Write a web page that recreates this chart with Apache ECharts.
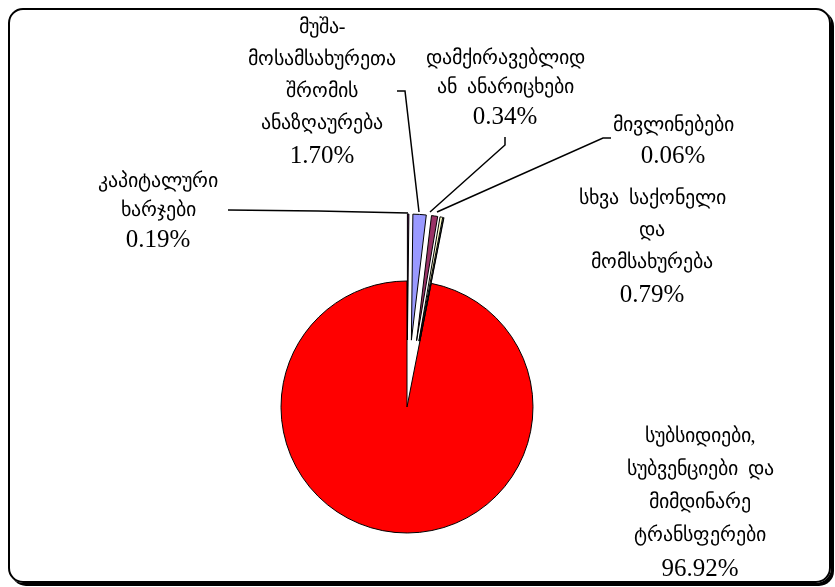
<!DOCTYPE html>
<html>
<head>
<meta charset="utf-8">
<script src="https://cdn.jsdelivr.net/npm/echarts@6/dist/echarts.min.js"></script>
<style>
  html, body { margin: 0; padding: 0; background: #fff; }
  .wrap { position: relative; width: 835px; height: 587px; }
  .frame {
    position: absolute; left: 8px; top: 8px; width: 819px; height: 571px;
    border: 2px solid #000; border-radius: 15px; box-shadow: 3px 3px 0 #000;
  }
  #chart { position: absolute; left: 0; top: 0; width: 835px; height: 587px; }
</style>
</head>
<body>
<div class="wrap">
  <div class="frame"></div>
  <div id="chart"></div>
</div>
<script>
// budget expenditure shares, clockwise from 12 o'clock
const categories = [
  'კაპიტალური\nხარჯები',
  'მუშა-\nმოსამსახურეთა\nშრომის\nანაზღაურება',
  'სხვა  საქონელი\nდა\nმომსახურება',
  'დამქირავებლიდ\nან  ანარიცხები',
  'მივლინებები',
  'სუბსიდიები,\nსუბვენციები  და\nმიმდინარე\nტრანსფერები'
];
const shares = [0.19, 1.70, 0.79, 0.34, 0.06, 96.92];
const exploded = [true, true, true, true, true, false];

const sliceColors = ['#660066', '#9999FF', '#993366', '#FFFFCC', '#CCFFFF', '#FF0000'];
// label anchor + leader line for each slice
const labelSpots = [
  { x: 158, y: 211, lh: 29, line: [[228, 210], [318, 211], [408, 213]] },
  { x: 322, y: 92, lh: 32, line: [[397, 91], [405, 91], [419, 212]] },
  { x: 652, y: 247, lh: 32, line: null },
  { x: 505, y: 88, lh: 29, line: [[505, 137], [505, 145], [430, 212]] },
  { x: 673, y: 141, lh: 30, line: [[611, 138], [603, 138], [437, 212]] },
  { x: 700, y: 503, lh: 33, line: null }
];

const font = "'Liberation Serif', 'Times New Roman', serif";
const center = [407, 407];
const R = 126;

function labelFor(i) {
  const lh = labelSpots[i].lh;
  return {
    show: true,
    position: 'outside',
    fontFamily: font,
    fontSize: 20,
    lineHeight: lh,
    color: '#000',
    formatter: p => p.name.split('\n').map(s => '{g|' + s + '}').join('\n') +
      '\n{n|' + p.value.toFixed(2) + '%}',
    rich: {
      g: { fontFamily: font, fontSize: 20, lineHeight: lh, color: '#000', align: 'center' },
      n: { fontFamily: font, fontSize: 25, lineHeight: lh, color: '#000', align: 'center' }
    }
  };
}

const chart = echarts.init(document.getElementById('chart'));

chart.setOption({
  animation: false,
  series: [
    {
      // base pie: the big slice, carries all labels
      type: 'pie',
      center: center,
      radius: [0, R],
      startAngle: 90,
      clockwise: true,
      avoidLabelOverlap: false,
      emphasis: { disabled: true },
      labelLine: { show: true, length: 5, length2: 5, lineStyle: { color: '#000', width: 1.5 } },
      labelLayout: function (params) {
        const s = labelSpots[params.dataIndex];
        const out = { x: s.x, y: s.y, align: 'center', verticalAlign: 'middle' };
        if (s.line) out.labelLinePoints = s.line;
        return out;
      },
      data: shares.map((v, i) => ({
        name: categories[i],
        value: v,
        itemStyle: exploded[i]
          ? { color: 'rgba(0,0,0,0)', borderWidth: 0 }
          : { color: sliceColors[i], borderColor: '#000', borderWidth: 1 },
        label: labelFor(i),
        labelLine: { show: labelSpots[i].line !== null }
      }))
    },
    {
      // exploded small slices
      type: 'pie',
      center: center,
      radius: [0, R],
      startAngle: 90,
      clockwise: true,
      selectedMode: 'multiple',
      selectedOffset: 67,
      emphasis: { disabled: true },
      label: { show: false },
      labelLine: { show: false },
      data: shares.map((v, i) => ({
        name: categories[i],
        value: v,
        selected: exploded[i],
        itemStyle: exploded[i]
          ? { color: sliceColors[i], borderColor: '#000', borderWidth: 1 }
          : { color: 'rgba(0,0,0,0)', borderWidth: 0 }
      }))
    }
  ]
});
</script>
</body>
</html>
